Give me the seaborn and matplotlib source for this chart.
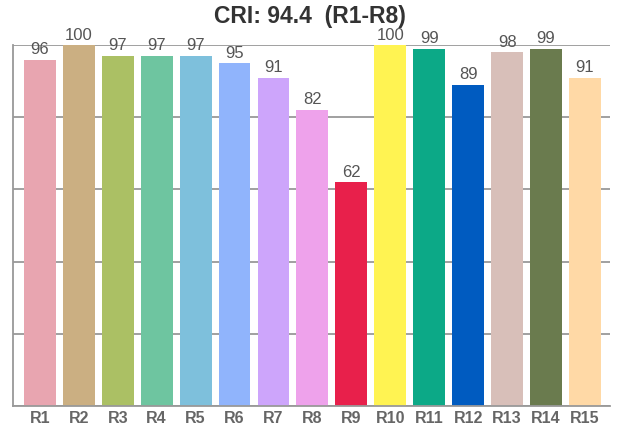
import matplotlib
matplotlib.use("Agg")
import matplotlib.pyplot as plt
import seaborn as sns
import pandas as pd

# ==================== data ====================
labels = ["R1", "R2", "R3", "R4", "R5", "R6", "R7", "R8",
          "R9", "R10", "R11", "R12", "R13", "R14", "R15"]
values = [96, 100, 97, 97, 97, 95, 91, 82, 62, 100, 99, 89, 98, 99, 91]
colors = ["#E8A5B0", "#CBAF82", "#ABC064", "#6EC5A0", "#7EC0DC",
          "#90B4FC", "#CDA5FB", "#EEA2EB", "#E8204B", "#FFF352",
          "#0CA987", "#005BC0", "#D8BFB9", "#6A7B4E", "#FFD9A6"]
title = "CRI: 94.4  (R1-R8)"

df = pd.DataFrame({"name": labels, "value": values})

# ==================== plot ====================
sns.set_style("white")
plt.rcParams['font.family'] = ['Liberation Sans', 'DejaVu Sans']

fig = plt.figure(figsize=(6.33, 4.27), dpi=100)
ax = fig.add_axes([0.0205, 0.047, 0.943, 0.845])

sns.barplot(data=df, x="name", y="value", hue="name", palette=colors,
            legend=False, width=0.82, saturation=1, linewidth=0,
            edgecolor="none", ax=ax)

ax.set_ylim(0, 100)
ax.set_xlim(-0.69, 14.64)
ax.set_yticks([0, 20, 40, 60, 80, 100])
ax.set_yticklabels([])
ax.yaxis.grid(True, color="#999999", linewidth=1.3)
ax.set_axisbelow(True)
ax.tick_params(axis="both", length=0)
ax.tick_params(axis="x", pad=3)
for lab in ax.get_xticklabels():
    lab.set_fontweight("bold")
    lab.set_fontsize(11.5)
    lab.set_color("#666666")
ax.set_xlabel("")
ax.set_ylabel("")

for side in ["top", "right"]:
    ax.spines[side].set_visible(False)
for side in ["left", "bottom"]:
    ax.spines[side].set_color("#999999")
    ax.spines[side].set_linewidth(1.3)

for i, v in enumerate(values):
    ax.text(i, v + 1.0, str(v), ha="center", va="bottom",
            fontsize=12, color="#555555")

fig.text(0.49, 0.962, title, ha="center", va="center",
         fontsize=16.5, fontweight="bold", color="#333333")

plt.savefig("out.png", dpi=100)
